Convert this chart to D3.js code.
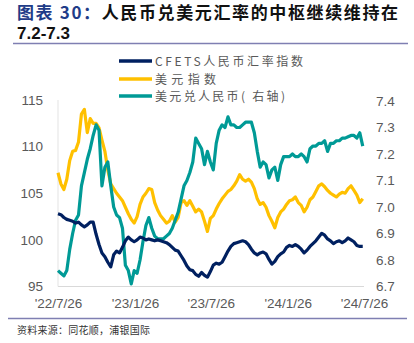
<!DOCTYPE html>
<html><head><meta charset="utf-8">
<script src="https://cdn.jsdelivr.net/npm/d3@7"></script>
<style>
html,body{margin:0;padding:0;background:#fff;}
svg{display:block;font-family:"Noto Sans CJK SC","Noto Sans",sans-serif;}
</style></head>
<body><svg id="c" width="414" height="343"></svg>
<script>
// ---- data ----
const startDate = "2022-07-26";
const cfets = [102.8,102.7,102.4,102.2,102.1,102.0,101.8,101.9,101.6,101.4,101.6,101.9,101.9,100.6,99.5,98.6,98.2,97.6,97.1,98.4,
98.8,98.6,99.2,99.9,100.3,100.0,99.8,100.0,100.3,100.2,100.0,100.1,100.0,99.9,100.0,99.9,99.8,99.7,99.5,99.2,
98.9,98.8,98.3,97.8,97.2,96.8,96.7,96.3,96.1,96.5,96.2,96.0,96.6,97.3,97.5,97.4,97.6,98.2,98.8,99.3,
99.6,99.7,99.8,99.9,99.8,99.5,99.0,98.6,98.4,98.6,98.7,98.5,97.9,97.4,97.7,98.2,98.5,98.7,99.2,99.4,
99.3,99.5,99.3,99.0,98.6,98.9,99.3,99.6,99.9,100.3,100.7,100.5,100.1,99.9,99.6,99.8,99.9,99.7,99.9,100.2,
100.0,99.8,99.4,99.3,99.3];
const dxy = [107.2,106.0,105.4,106.5,108.5,109.5,109.6,110.5,113.5,114.0,111.5,113.0,112.5,112.5,112.0,110.7,109.5,107.5,106.0,105.5,
105.0,104.6,104.2,103.5,102.8,102.2,101.8,102.5,103.8,104.6,105.0,105.5,105.4,104.0,103.2,102.6,102.2,101.8,102.0,102.6,
101.9,102.4,104.0,104.2,103.7,104.2,103.6,103.0,103.3,103.0,102.0,100.9,102.3,102.6,103.3,103.9,104.4,104.8,105.2,105.4,
105.8,106.3,107.0,106.5,106.3,106.5,106.2,105.5,104.4,103.8,104.0,103.5,102.6,102.0,101.3,102.4,103.0,103.3,103.8,104.2,
104.3,104.6,104.0,103.7,103.0,103.5,104.3,104.6,105.2,105.8,106.0,105.7,105.3,105.0,104.8,104.6,104.9,105.1,105.0,105.5,
105.8,105.3,104.8,104.0,104.4];
const usdcny = [6.76,6.75,6.74,6.76,6.84,6.90,6.95,6.97,7.08,7.13,7.18,7.22,7.27,7.31,7.29,7.08,7.15,7.17,7.08,7.00,
6.97,6.96,6.92,6.78,6.76,6.71,6.76,6.75,6.80,6.87,6.93,6.96,6.92,6.89,6.88,6.88,6.88,6.89,6.90,6.92,
6.95,6.98,7.03,7.08,7.10,7.13,7.17,7.26,7.24,7.22,7.16,7.21,7.17,7.14,7.24,7.29,7.31,7.30,7.34,7.31,
7.31,7.30,7.30,7.31,7.32,7.32,7.32,7.28,7.21,7.15,7.17,7.16,7.11,7.14,7.15,7.10,7.16,7.19,7.19,7.19,
7.20,7.19,7.19,7.20,7.19,7.17,7.22,7.23,7.23,7.24,7.24,7.25,7.21,7.24,7.24,7.25,7.25,7.26,7.26,7.265,
7.27,7.27,7.26,7.28,7.23];
const xTickDates = ["2022-07-26","2023-01-26","2023-07-26","2024-01-26","2024-07-26"];
const xTickLabels = ["'22/7/26","'23/1/26","'23/7/26","'24/1/26","'24/7/26"];
const leftTicks = [95,100,105,110,115];
const rightTicks = [6.7,6.8,6.9,7.0,7.1,7.2,7.3,7.4];
const seriesNames = ["CFETS人民币汇率指数","美元指数","美元兑人民币( 右轴)"];
const seriesColors = ["#002060","#FFC000","#009A96"];

// ---- build ----
const parse = d3.timeParse("%Y-%m-%d");
const t0 = parse(startDate);
const dates = cfets.map((_, i) => d3.timeDay.offset(t0, 7 * i));

const svg = d3.select("#c");
const x = d3.scaleTime().domain([parse(xTickDates[0]), parse(xTickDates[4])]).range([58, 364]);
const yL = d3.scaleLinear().domain([95, 115]).range([286.5, 100]);
const yR = d3.scaleLinear().domain([6.7, 7.4]).range([286.5, 101]);

// title
const title = svg.append("text").attr("x", 17).attr("y", 19)
  .attr("font-size", 17).attr("font-weight", "bold")
  .attr("textLength", 381).attr("lengthAdjust", "spacing");
title.append("tspan").attr("fill", "#1F3C88").text("图表 30：");
title.append("tspan").attr("fill", "#111").text("人民币兑美元汇率的中枢继续维持在");
svg.append("text").attr("x", 17).attr("y", 39).attr("font-size", 17).attr("font-weight", "bold")
  .attr("fill", "#111").attr("font-family", "Liberation Sans, Arial, sans-serif").text("7.2-7.3");
svg.append("line").attr("x1", 13).attr("x2", 408).attr("y1", 43.5).attr("y2", 43.5)
  .attr("stroke", "#7F7FB2").attr("stroke-width", 1.3);

// axes lines
svg.append("line").attr("x1", 58).attr("x2", 364).attr("y1", 286.5).attr("y2", 286.5)
  .attr("stroke", "#D9D9D9").attr("stroke-width", 1);
svg.append("line").attr("x1", 58).attr("x2", 58).attr("y1", 100).attr("y2", 286.5)
  .attr("stroke", "#E3E3E3").attr("stroke-width", 1);

const tickFont = "Liberation Sans, Arial, sans-serif";
const gL = svg.append("g").attr("transform", "translate(50,0)")
  .call(d3.axisLeft(yL).tickValues(leftTicks).tickSize(0).tickPadding(7).tickFormat(d3.format("d")));
const gR = svg.append("g").attr("transform", "translate(368,0)")
  .call(d3.axisRight(yR).tickValues(rightTicks).tickSize(0).tickPadding(8).tickFormat(d3.format(".1f")));
const gX = svg.append("g").attr("transform", "translate(0,293)")
  .call(d3.axisBottom(x).tickValues(xTickDates.map(parse)).tickSize(0).tickPadding(5)
    .tickFormat((d, i) => xTickLabels[i]));
[gL, gR, gX].forEach(g => {
  g.select(".domain").remove();
  g.selectAll("text").attr("font-size", 13.5).attr("fill", "#595959").attr("font-family", tickFont);
});

// lines
const lineL = d3.line().x((d, i) => x(dates[i])).y(d => yL(d)).curve(d3.curveLinear);
const lineR = d3.line().x((d, i) => x(dates[i])).y(d => yR(d)).curve(d3.curveLinear);
svg.append("path").datum(dxy).attr("d", lineL).attr("fill", "none")
  .attr("stroke", seriesColors[1]).attr("stroke-width", 3.2).attr("stroke-linejoin", "round");
svg.append("path").datum(usdcny).attr("d", lineR).attr("fill", "none")
  .attr("stroke", seriesColors[2]).attr("stroke-width", 3.2).attr("stroke-linejoin", "round");
svg.append("path").datum(cfets).attr("d", lineL).attr("fill", "none")
  .attr("stroke", seriesColors[0]).attr("stroke-width", 3.2).attr("stroke-linejoin", "round");

// legend
const legY = [61, 79, 96];
const legLen = [148, 61, 130];
seriesNames.forEach((n, i) => {
  svg.append("line").attr("x1", 119).attr("x2", 152).attr("y1", legY[i]).attr("y2", legY[i])
    .attr("stroke", seriesColors[i]).attr("stroke-width", 3.5);
  svg.append("text").attr("x", 155).attr("y", legY[i] + 4.5).attr("font-size", 12)
    .attr("fill", "#595959").attr("textLength", legLen[i]).attr("lengthAdjust", "spacing").text(n);
});

// footer
svg.append("line").attr("x1", 8).attr("x2", 407).attr("y1", 318.5).attr("y2", 318.5)
  .attr("stroke", "#7F7FB2").attr("stroke-width", 1.3);
svg.append("text").attr("x", 17).attr("y", 334).attr("font-size", 10).attr("fill", "#333")
  .attr("textLength", 133).attr("lengthAdjust", "spacing").text("资料来源：同花顺，浦银国际");
</script></body></html>
